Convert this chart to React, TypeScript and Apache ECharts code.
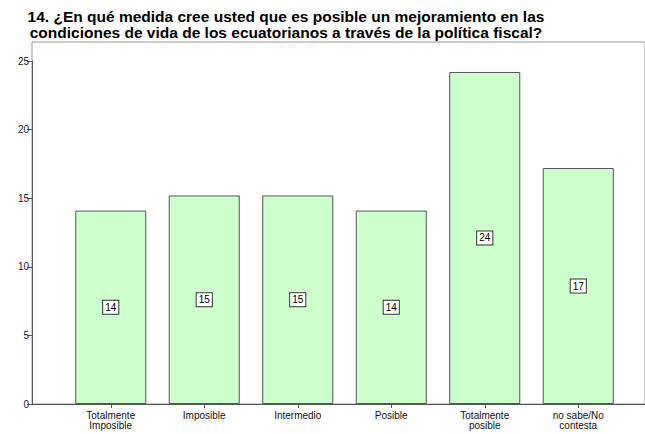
import React, { useEffect, useRef } from "react";
import * as echarts from "echarts";

const titleLines = [
  "14. ¿En qué medida cree usted que es posible un mejoramiento en las",
  "condiciones de vida de los ecuatorianos a través de la política fiscal?",
];
const categories = [
  "Totalmente\nImposible",
  "Imposible",
  "Intermedio",
  "Posible",
  "Totalmente\nposible",
  "no sabe/No\ncontesta",
];
const values = [14.1, 15.2, 15.2, 14.1, 24.2, 17.2];
const yMin = 0;
const yMax = 25;
const yInterval = 5;

export default function App() {
  const ref = useRef<HTMLDivElement>(null);
  useEffect(() => {
    if (!ref.current) return;
    const chart = echarts.init(ref.current, undefined, { renderer: "svg" });
    const font = "Arial, 'Liberation Sans', sans-serif";
    chart.setOption({
      animation: false,
      backgroundColor: "#ffffff",
      title: {
        text: titleLines.join("\n"),
        left: 281,
        top: 3,
        textAlign: "center",
        textStyle: {
          fontFamily: font,
          fontSize: 15.5,
          fontWeight: "bold",
          color: "#000",
          lineHeight: 16,
          align: "center",
        },
      },
      grid: [
        {
          left: 32,
          top: 42,
          right: -6,
          bottom: 30,
          show: true,
          borderColor: "#999",
          borderWidth: 1,
          backgroundColor: "transparent",
        },
        { left: 64, top: 61, right: 20, bottom: 30 },
      ],
      xAxis: [
        {
          gridIndex: 0,
          type: "value",
          min: 0,
          max: 1,
          axisLine: { show: true, lineStyle: { color: "#555", width: 1 } },
          axisTick: { show: false },
          axisLabel: { show: false },
          splitLine: { show: false },
        },
        {
          gridIndex: 1,
          type: "category",
          data: categories,
          axisLine: { show: false },
          axisTick: {
            show: true,
            alignWithLabel: true,
            length: 4,
            lineStyle: { color: "#555" },
          },
          axisLabel: {
            fontFamily: font,
            fontSize: 10,
            color: "#111",
            lineHeight: 10,
            margin: 6,
            interval: 0,
          },
        },
      ],
      yAxis: [
        {
          gridIndex: 0,
          type: "value",
          min: 0,
          max: 1,
          show: false,
        },
        {
          gridIndex: 1,
          type: "value",
          min: yMin,
          max: yMax,
          interval: yInterval,
          offset: 32,
          axisLine: { show: true, lineStyle: { color: "#555", width: 1 } },
          axisTick: { show: true, length: 5, lineStyle: { color: "#555" } },
          axisLabel: {
            fontFamily: font,
            fontSize: 10,
            color: "#222",
            margin: 3,
          },
          splitLine: { show: false },
        },
      ],
      series: [
        {
          type: "bar",
          xAxisIndex: 1,
          yAxisIndex: 1,
          data: values,
          barCategoryGap: "24%",
          itemStyle: {
            color: "#ccffcc",
            borderColor: "#555",
            borderWidth: 1,
          },
          label: {
            show: true,
            position: "inside",
            formatter: (p: any) => String(Math.round(p.value)),
            fontFamily: font,
            fontSize: 10,
            color: "#000",
            backgroundColor: "#fff",
            borderColor: "#333",
            borderWidth: 1,
            padding: [2, 2, 1, 2],
          },
        },
      ],
    });
    return () => chart.dispose();
  }, []);
  return (
    <div
      ref={ref}
      style={{ width: 645, height: 434, position: "absolute", left: 0, top: 0 }}
    />
  );
}
